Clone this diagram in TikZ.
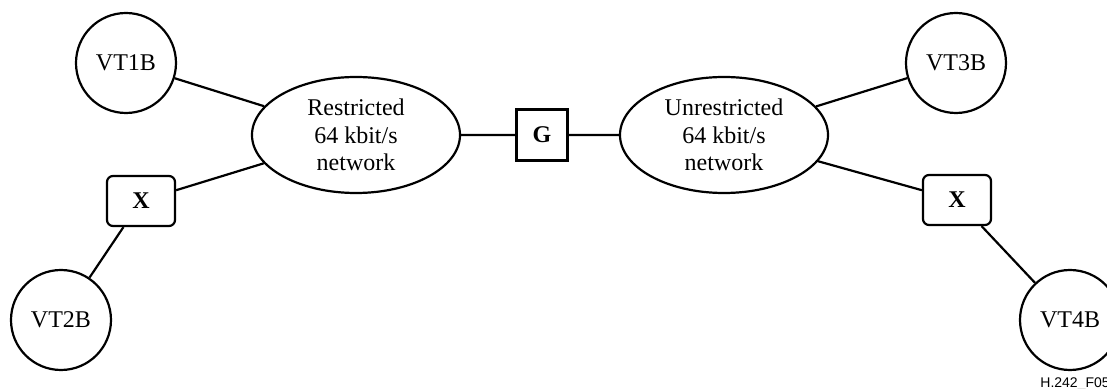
\documentclass[tikz,border=0pt]{standalone}
\usepackage{fontspec}
\setmainfont{Liberation Serif}
\newfontfamily\labelfont{Liberation Sans}
\usetikzlibrary{positioning,shapes.geometric}
\tikzset{term/.style={draw,circle,line width=1.1pt,minimum size=50pt,inner sep=0pt}}
\tikzset{net/.style={draw,ellipse,line width=1.1pt,minimum width=104pt,minimum height=58pt,inner sep=0pt,align=center}}
\tikzset{unit/.style={draw,line width=1.1pt,inner sep=0pt,font=\fontsize{12pt}{14pt}\selectfont\bfseries}}
\tikzset{link/.style={line width=1.1pt}}

\begin{document}
\begin{tikzpicture}[on grid,font=\fontsize{12pt}{13.8pt}\selectfont]
      \useasboundingbox[clip] (-271pt,-127pt) rectangle (282.5pt,67.5pt);
      \node[unit,minimum size=25.5pt](G){G};
      \node[net,left=93pt of G](R){Restricted\\64 kbit/s\\network};
      \node[net,right=91pt of G](U){Unrestricted\\64 kbit/s\\network};

      \node[term,above left=36pt and 115pt of R](vt1){VT1B};
      \node[unit,rounded corners=3pt,minimum width=34pt,minimum height=25pt,below left=33pt and 107.5pt of R](xl){X};
      \node[term,below left=59.5pt and 40pt of xl](vt2){VT2B};

      \node[term,above right=36pt and 116pt of U](vt3){VT3B};
      \node[unit,rounded corners=3pt,minimum width=34pt,minimum height=25pt,below right=32.5pt and 116.5pt of U](xr){X};
      \node[term,below right=60pt and 56.5pt of xr](vt4){VT4B};

      \node[anchor=base west,inner sep=0pt,font=\labelfont\fontsize{7pt}{8pt}\selectfont] (tag) at (249pt,-126.3pt) {H.242\_F05};

      \draw[link] (R) -- (G) -- (U)
      (R) -- (vt1) (R) -- (xl) -- (vt2)
      (U) -- (vt3) (U) -- (xr) -- (vt4);
    \end{tikzpicture}
\end{document}
